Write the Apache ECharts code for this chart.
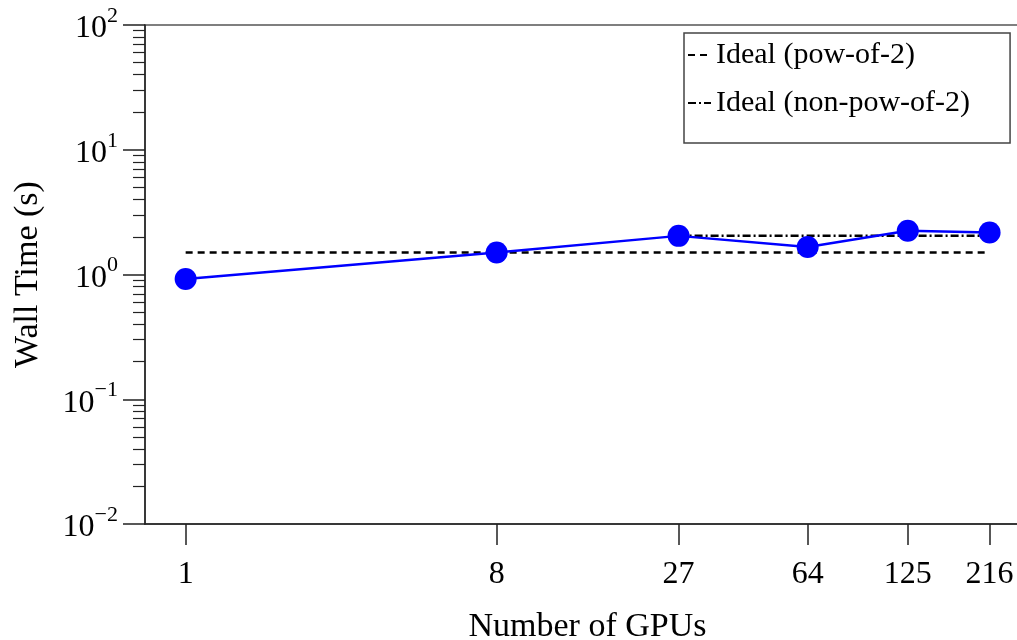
<!DOCTYPE html>
<html>
<head>
<meta charset="utf-8">
<script src="https://cdn.jsdelivr.net/npm/echarts@6/dist/echarts.min.js"></script>
<style>
  html, body { margin: 0; padding: 0; background: #fff; }
  #chart { width: 1017px; height: 640px; }
</style>
</head>
<body>
<div id="chart"></div>
<script>
const FONT = "Liberation Serif";

// measured scaling data
const gpus = [1, 8, 27, 64, 125, 216];
const wallTime = [0.92, 1.50, 2.04, 1.66, 2.24, 2.17];

// ideal reference lines
const idealPow2Gpus = [1, 216];
const idealPow2Time = [1.50, 1.50];
const idealNonPow2Gpus = [27, 216];
const idealNonPow2Time = [2.04, 2.04];

// axis ticks
const xTicks = [1, 8, 27, 64, 125, 216];
const yMajor = [0.01, 0.1, 1, 10, 100];
const yMinor = [];
yMajor.slice(0, -1).forEach(d => {
  for (let m = 2; m <= 9; m++) yMinor.push(+(m * d).toPrecision(3));
});

const pairs = (xs, ys) => xs.map((x, i) => [x, ys[i]]);

const chart = echarts.init(document.getElementById("chart"));

const yBase = {
  type: "log",
  logBase: 10,
  min: 0.01,
  max: 100,
  splitLine: { show: false },
};

chart.setOption({
  animation: false,
  textStyle: { fontFamily: FONT, color: "#000" },
  grid: {
    left: 145, top: 25, width: 885, height: 499,
    outerBoundsMode: "none",
    containLabel: false,
    show: true, borderColor: "#555", borderWidth: 1.5,
  },
  legend: {
    left: 684, top: 33,
    orient: "vertical",
    data: ["Ideal (pow-of-2)", "Ideal (non-pow-of-2)"],
    itemWidth: 23, itemHeight: 14, itemGap: 18,
    padding: [7, 40, 25, 3],
    borderColor: "#444", borderWidth: 1.5,
    itemStyle: { opacity: 0 },
    textStyle: { fontFamily: FONT, fontSize: 30, color: "#000" },
  },
  xAxis: {
    type: "log",
    logBase: 10,
    min: 0.762,
    max: 283,
    name: "Number of GPUs",
    nameLocation: "middle",
    nameGap: 86,
    nameTextStyle: { fontFamily: FONT, fontSize: 34, color: "#000" },
    axisLine: { lineStyle: { color: "#222", width: 1.5 } },
    axisTick: { customValues: xTicks, length: 21, lineStyle: { color: "#222", width: 1.5 } },
    axisLabel: {
      customValues: xTicks,
      formatter: v => String(Math.round(v)),
      margin: 35,
      fontFamily: FONT, fontSize: 32, color: "#000",
    },
    splitLine: { show: false },
    minorTick: { show: false },
  },
  yAxis: [
    Object.assign({}, yBase, {
      name: "Wall Time (s)",
      nameLocation: "middle",
      nameGap: 100,
      nameTextStyle: { fontFamily: FONT, fontSize: 34, color: "#000" },
      axisLine: { lineStyle: { color: "#222", width: 1.5 } },
      axisTick: { customValues: yMajor, length: 22, lineStyle: { color: "#222", width: 1.5 } },
      axisLabel: {
        customValues: yMajor,
        margin: 27,
        formatter: v => {
          const e = Math.round(Math.log10(v));
          return "{b|10}{s|" + (e < 0 ? "\u2212" + (-e) : e) + "}";
        },
        rich: {
          b: { fontFamily: FONT, fontSize: 32, color: "#000", lineHeight: 40, verticalAlign: "bottom" },
          s: { fontFamily: FONT, fontSize: 22, color: "#000", lineHeight: 22, verticalAlign: "top" },
        },
      },
    }),
    Object.assign({}, yBase, {
      position: "left",
      axisLine: { show: false },
      axisLabel: { show: false },
      axisTick: { customValues: yMinor, length: 12, lineStyle: { color: "#222", width: 1.2 } },
    }),
  ],
  series: [
    {
      name: "Measured",
      type: "line",
      data: pairs(gpus, wallTime),
      symbol: "circle",
      symbolSize: 22,
      itemStyle: { color: "#0000ff" },
      lineStyle: { color: "#0000ff", width: 2.5 },
      z: 3,
    },
    {
      name: "Ideal (pow-of-2)",
      type: "line",
      data: pairs(idealPow2Gpus, idealPow2Time),
      symbol: "none",
      itemStyle: { color: "#000" },
      lineStyle: { color: "#000", width: 2.5, type: [7, 5] },
      z: 2,
    },
    {
      name: "Ideal (non-pow-of-2)",
      type: "line",
      data: pairs(idealNonPow2Gpus, idealNonPow2Time),
      symbol: "none",
      itemStyle: { color: "#000" },
      lineStyle: { color: "#000", width: 2.5, type: [8, 3, 2, 3] },
      z: 2,
    },
  ],
});
</script>
</body>
</html>
